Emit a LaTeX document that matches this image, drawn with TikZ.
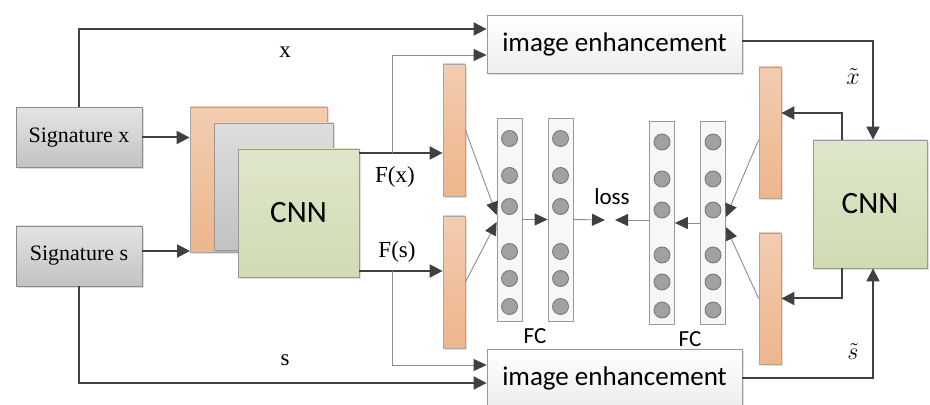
\documentclass[tikz,border=0pt]{standalone}
\usepackage{fontspec}
\setmainfont{Liberation Serif}
\newfontfamily\sansfnt{Carlito}
\usetikzlibrary{arrows.meta,positioning,shadows}
\definecolor{layerTop}{HTML}{F3CCAF}
\definecolor{layerBot}{HTML}{EDB68D}
\definecolor{greenTop}{HTML}{DFE6CA}
\definecolor{greenBot}{HTML}{D0DBB3}
\definecolor{boxTop}{HTML}{E4E4E4}
\definecolor{boxBot}{HTML}{C2C2C2}
\definecolor{lineDark}{HTML}{404040}

\begin{document}
\begin{tikzpicture}[x=0.5pt, y=-0.5pt,
  shad/.style={drop shadow={opacity=0.25,shadow xshift=1pt,shadow yshift=-1pt}},
  sig/.style={rectangle,draw=black!45,top color=boxTop,bottom color=boxBot,minimum width=63pt,minimum height=30pt,inner sep=0pt,font=\fontsize{11}{13}\selectfont,shad},
  layer/.style={rectangle,draw=black!35,top color=layerTop,bottom color=layerBot,inner sep=0pt,shad},
  grayl/.style={rectangle,draw=black!40,top color=black!13,bottom color=black!24,inner sep=0pt,shad},
  cnn/.style={rectangle,draw=black!40,top color=greenTop,bottom color=greenBot,inner sep=0pt,font=\sansfnt\fontsize{15.5}{18}\selectfont,shad},
  enh/.style={rectangle,draw=black!40,top color=white,bottom color=black!7,minimum width=127.5pt,minimum height=29pt,inner sep=0pt,font=\sansfnt\fontsize{13.5}{16}\selectfont,shad},
  bar/.style={layer,minimum width=11pt},
  fc/.style={rectangle,draw=black!40,fill=black!3,minimum width=12.5pt,minimum height=101.5pt,inner sep=0pt},
  unit/.style={circle,draw=black!55,fill=black!37,minimum size=8pt,inner sep=0pt},
  lbl/.style={inner sep=0pt,font=\fontsize{11.5}{14}\selectfont},
  slbl/.style={inner sep=0pt,font=\sansfnt\fontsize{11.5}{13}\selectfont},
  arr/.style={-{Triangle[length=6.5pt,width=6.5pt]},draw=lineDark,line width=1pt},
  link/.style={-{Triangle[length=6.5pt,width=6pt,color=lineDark]},draw=black!45,line width=0.45pt}]
\useasboundingbox (0,0) rectangle (930,405);
% inputs and first network
\node[sig] (sigx) at (79,137.5) {Signature x};
\node[sig] (sigs) at (79,256) {Signature s};
\node[layer,minimum width=68.5pt,minimum height=72.5pt] (stk1) at (258.5,179.5) {};
\node[grayl,minimum width=59.5pt,minimum height=63.5pt] (stk2) at (273.5,186.5) {};
\node[cnn,minimum width=60.5pt,minimum height=64pt] (cnn1) at (298.5,213) {CNN};
\node[cnn,minimum width=57pt,minimum height=64pt] (cnn2) at (870,204) {CNN};
\node[enh] (enh1) at (614.5,44.5) {image enhancement};
\node[enh] (enh2) at (614.5,378) {image enhancement};
% feature bars
\node[bar,minimum height=66pt] (bar1) at (454,130) {};
\node[bar,minimum height=66pt] (bar2) at (454,282) {};
\node[bar,minimum height=65.5pt] (bar3) at (770,132.5) {};
\node[bar,minimum height=65.5pt] (bar4) at (770,298.5) {};
% fully connected columns
\foreach \n/\cx/\cy in {1/509.5/219.5,2/560.5/219.5,3/662/223,4/713/223}{
  \node[fc] (fc\n) at (\cx,\cy) {};
  \foreach \dy [count=\k] in {-81,-44,-13,32,59,87}
    \node[unit] (u\n\k) at (\cx,{\cy+(\dy)}) {};
}
% labels
\node[lbl] (lx) at (285,52) {x};
\node[lbl] (ls) at (285,360) {s};
\node[lbl] (lfx) at (395,177) {F(x)};
\node[lbl] (lfs) at (397,252) {F(s)};
\node[slbl] (lloss) at (612,197) {loss};
\node[slbl] (lfc1) at (535,336) {FC};
\node[slbl] (lfc2) at (690,339) {FC};
\node[lbl] (lxt) at (853,77) {$\tilde{x}$};
\node[lbl] (lst) at (853,352) {$\tilde{s}$};
\coordinate (inS) at (190,251);
\coordinate (fork1) at (392,153);
\coordinate (fork2) at (392,271);
\coordinate (lossL) at (605,220);
\coordinate (lossR) at (615,220);
% connectors
\draw[arr] (sigx.east) -- (sigx.east -| stk1.west);
\draw[arr] (sigs.east |- inS) -- (inS);
\draw[arr] (sigx.north) |- ([yshift=7.75pt]enh1.west);
\draw[arr] (sigs.south) |- ([yshift=-2.5pt]enh2.west);
\draw[arr] (cnn1.east |- fork1) -- (fork1 -| bar1.west);
\draw[arr] (cnn1.east |- fork2) -- (fork2 -| bar2.west);
\draw[link] (fork1) |- ([yshift=-5.25pt]enh1.west);
\draw[link] (fork2) |- ([yshift=6.5pt]enh2.west);
\draw[link] (bar1.east) -- ([yshift=2.25pt]fc1.west);
\draw[link] (bar2.east) -- ([yshift=-1.25pt]fc1.west);
\draw[link] (fc1.east) -- (fc2.west);
\draw[link] (fc2.east) -- (lossL);
\draw[link] ([yshift=1.5pt]fc3.west) -- (lossR);
\draw[link] (fc4.west) -- (fc3.east);
\draw[link] ([yshift=-3.75pt]bar3.west) -- ([yshift=3pt]fc4.east);
\draw[link] (bar4.west) -- ([yshift=-2pt]fc4.east);
\draw[arr] ([yshift=1.75pt]enh1.east) -| ([xshift=1.5pt]cnn2.north);
\draw[arr] (enh2.east) -| ([xshift=1.5pt]cnn2.south);
\draw[arr] ([xshift=-14pt]cnn2.north) |- ([yshift=9.75pt]bar3.east);
\draw[arr] ([xshift=-14pt]cnn2.south) |- (bar4.east);
\end{tikzpicture}
\end{document}
